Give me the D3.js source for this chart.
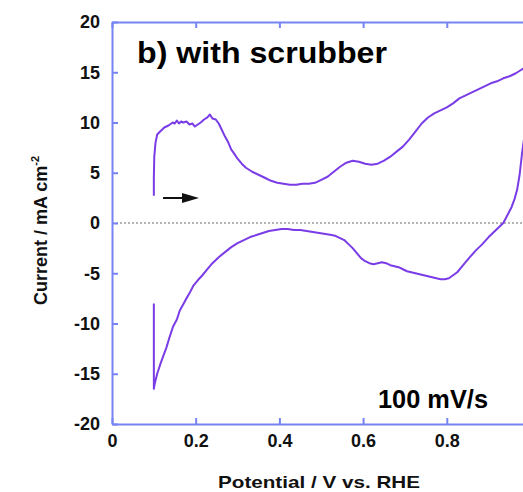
<!DOCTYPE html>
<html>
<head>
<meta charset="utf-8">
<script src="https://cdn.jsdelivr.net/npm/d3@7"></script>
<style>
html,body{margin:0;padding:0;background:#fff;overflow:hidden;}
svg{display:block;font-family:"Liberation Sans",Arial,sans-serif;}
</style>
</head>
<body>
<svg id="chart" width="523" height="492"></svg>
<script>
// Forward (anodic) scan: potential (V vs RHE) and current (mA cm-2)
const fwdPotential = [0.100,0.100,0.101,0.104,0.108,0.115,0.125,0.135,0.145,0.150,0.155,0.160,0.165,0.170,0.178,0.185,0.192,0.198,0.205,0.212,0.220,0.228,0.234,0.240,0.248,0.255,0.262,0.270,0.278,0.285,0.292,0.300,0.310,0.320,0.335,0.350,0.365,0.380,0.395,0.410,0.425,0.440,0.455,0.470,0.485,0.500,0.515,0.530,0.545,0.560,0.575,0.590,0.605,0.620,0.635,0.650,0.665,0.680,0.695,0.710,0.725,0.740,0.755,0.770,0.785,0.800,0.815,0.830,0.845,0.860,0.875,0.890,0.905,0.920,0.935,0.950,0.965,0.980,0.990,1.000];
const fwdCurrent   = [2.7,4.5,6.6,8.0,8.8,9.1,9.5,9.7,10.0,9.9,10.2,9.9,10.1,10.0,10.1,9.8,9.9,9.6,9.8,10.0,10.3,10.5,10.8,10.4,10.3,9.9,9.3,8.6,8.0,7.3,6.9,6.4,5.9,5.5,5.1,4.8,4.5,4.2,4.0,3.9,3.8,3.8,3.9,3.9,4.0,4.3,4.6,5.1,5.6,6.0,6.2,6.1,5.9,5.8,5.9,6.2,6.6,7.1,7.6,8.3,9.1,9.9,10.5,10.9,11.2,11.5,11.9,12.4,12.7,13.0,13.3,13.6,13.9,14.1,14.4,14.6,14.9,15.3,15.5,15.7];
// Reverse (cathodic) scan
const revPotential = [1.000,0.995,0.990,0.985,0.980,0.974,0.968,0.962,0.955,0.945,0.935,0.925,0.915,0.900,0.885,0.870,0.855,0.845,0.835,0.825,0.815,0.805,0.795,0.785,0.775,0.765,0.755,0.745,0.735,0.725,0.715,0.705,0.695,0.685,0.675,0.665,0.655,0.645,0.635,0.625,0.615,0.605,0.595,0.585,0.575,0.565,0.555,0.545,0.535,0.525,0.510,0.495,0.480,0.465,0.450,0.435,0.420,0.405,0.390,0.375,0.360,0.345,0.330,0.315,0.300,0.285,0.270,0.255,0.240,0.228,0.216,0.205,0.195,0.185,0.178,0.170,0.162,0.155,0.146,0.138,0.130,0.122,0.115,0.108,0.102,0.100,0.100];
const revCurrent   = [15.7,12.0,10.0,8.5,7.0,4.8,3.3,2.4,1.6,0.8,0.0,-0.4,-0.8,-1.4,-2.1,-2.7,-3.4,-3.9,-4.4,-4.9,-5.2,-5.5,-5.6,-5.6,-5.5,-5.4,-5.3,-5.2,-5.1,-5.0,-4.9,-4.8,-4.6,-4.4,-4.3,-4.2,-4.0,-3.9,-4.0,-4.1,-4.0,-3.8,-3.5,-3.0,-2.5,-2.1,-1.7,-1.5,-1.3,-1.2,-1.1,-1.0,-0.9,-0.8,-0.7,-0.7,-0.6,-0.6,-0.7,-0.8,-1.0,-1.2,-1.4,-1.7,-2.0,-2.4,-2.9,-3.4,-4.0,-4.6,-5.2,-5.7,-6.2,-7.0,-7.5,-8.1,-8.7,-9.6,-10.3,-11.3,-12.4,-13.3,-14.1,-15.0,-16.0,-16.5,-8.0];
// Axis ticks (the "1" label falls outside the cropped picture)
const xTicks = [0,0.2,0.4,0.6,0.8,1.0];
const xTickLabels = ["0","0.2","0.4","0.6","0.8",""];
const yTicks = [-20,-15,-10,-5,0,5,10,15,20];
const yTickLabels = ["-20","-15","-10","-5","0","5","10","15","20"];

const svg = d3.select("#chart");
const axisColor = "#7584f2";
const curveColor = "#7a3ce6";

const x = d3.scaleLinear().domain([0,1]).range([112,530.5]);
const y = d3.scaleLinear().domain([-20,20]).range([424,22]);

svg.append("rect").attr("width",523).attr("height",492).attr("fill","#fff");

// zero line
svg.append("line")
  .attr("x1",x(0)).attr("x2",x(1)).attr("y1",y(0)).attr("y2",y(0))
  .attr("stroke","#b4b4b4").attr("stroke-width",2).attr("stroke-dasharray","2,2");

function styleAxis(g){
  g.select(".domain").attr("stroke",axisColor).attr("stroke-width",2);
  g.selectAll(".tick line").attr("stroke",axisColor).attr("stroke-width",2);
  g.selectAll(".tick text").attr("fill","#111").attr("font-weight","bold").attr("font-size",18)
   .attr("font-family","'Liberation Sans',Arial,sans-serif");
}

const gx = svg.append("g").attr("transform",`translate(0,${y(-20)})`)
  .call(d3.axisBottom(x).tickValues(xTicks).tickSize(-6).tickSizeOuter(0).tickPadding(10)
        .tickFormat((d,i)=>xTickLabels[i]));
styleAxis(gx);
const gxt = svg.append("g").attr("transform",`translate(0,${y(20)})`)
  .call(d3.axisTop(x).tickValues(xTicks).tickSize(-6).tickSizeOuter(0).tickFormat(""));
styleAxis(gxt);
const gy = svg.append("g").attr("transform",`translate(${x(0)},0)`)
  .call(d3.axisLeft(y).tickValues(yTicks).tickSize(-6).tickSizeOuter(0).tickPadding(12)
        .tickFormat((d,i)=>yTickLabels[i]));
styleAxis(gy);
const gyr = svg.append("g").attr("transform",`translate(${x(1)},0)`)
  .call(d3.axisRight(y).tickValues(yTicks).tickSize(-6).tickSizeOuter(0).tickFormat(""));
styleAxis(gyr);

// curves
const line = d3.line().x(d=>x(d[0])).y(d=>y(d[1]));
const fwd = fwdPotential.map((p,i)=>[p,fwdCurrent[i]]);
const rev = revPotential.map((p,i)=>[p,revCurrent[i]]);
svg.append("path").datum(fwd.concat(rev.slice(1))).attr("d",line)
  .attr("fill","none").attr("stroke",curveColor).attr("stroke-width",2).attr("stroke-linejoin","round");

// arrow
svg.append("line").attr("x1",163).attr("x2",186).attr("y1",198).attr("y2",198)
  .attr("stroke","#111").attr("stroke-width",2);
svg.append("path").attr("d","M182,193 L199,198 L182,203 Z").attr("fill","#111");

// title & annotation
svg.append("text").attr("x",137).attr("y",63).attr("font-size",29).attr("font-weight","bold")
  .attr("fill","#000").attr("textLength",250).attr("lengthAdjust","spacingAndGlyphs").text("b) with scrubber");
svg.append("text").attr("x",378).attr("y",408).attr("font-size",25).attr("font-weight","bold")
  .attr("fill","#000").attr("textLength",110).attr("lengthAdjust","spacingAndGlyphs").text("100 mV/s");

// axis labels
svg.append("text").attr("x",218).attr("y",488).attr("font-size",17).attr("font-weight","bold")
  .attr("fill","#111").attr("textLength",202).attr("lengthAdjust","spacingAndGlyphs").text("Potential / V vs. RHE");
const yl = svg.append("text").attr("transform","translate(47,305) rotate(-90)")
  .attr("font-size",18).attr("font-weight","bold").attr("fill","#111");
yl.append("tspan").text("Current / mA cm");
yl.append("tspan").attr("dy",-8).attr("font-size",11).text("-2");
</script>
</body>
</html>
